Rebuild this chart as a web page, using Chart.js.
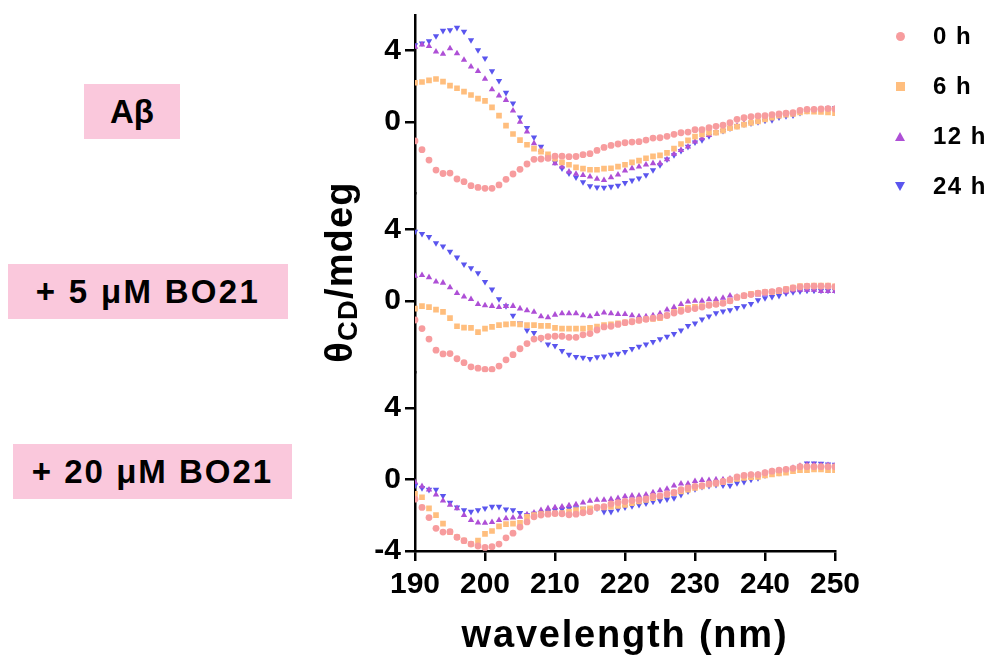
<!DOCTYPE html>
<html>
<head>
<meta charset="utf-8">
<script src="https://cdn.jsdelivr.net/npm/chart.js@4/dist/chart.umd.min.js"></script>
<style>
  html, body { margin: 0; padding: 0; background: #fff; }
  #wrap { position: relative; width: 1003px; height: 664px; overflow: hidden; font-family: "Liberation Sans", Arial, sans-serif; }
  #chart { position: absolute; left: 0; top: 0; }
  .box { position: absolute; background: #FAC8DC; font-weight: bold; font-size: 33px; letter-spacing: 2px; color: #000; text-align: center; height: 55px; line-height: 55px; white-space: nowrap; }
  .ytitle { position: absolute; left: 189px; top: 247px; width: 300px; height: 50px; line-height: 50px; text-align: center; font-weight: bold; font-size: 38px; transform: rotate(-90deg); white-space: nowrap; letter-spacing: 1.2px; }
  .ytitle sub { font-size: 0.72em; vertical-align: -0.2em; line-height: 0; }
  .xtitle { position: absolute; left: 375px; top: 612px; width: 500px; text-align: center; font-weight: bold; font-size: 38px; line-height: 44px; letter-spacing: 1.8px; white-space: nowrap; }
  .leg { position: absolute; left: 880px; height: 30px; line-height: 30px; font-weight: bold; font-size: 24px; letter-spacing: 1.5px; white-space: nowrap; }
  .leg .txt { position: absolute; left: 53px; top: 0; }
  .mk { position: absolute; }
</style>
</head>
<body>
<div id="wrap">
  <canvas id="chart" width="1003" height="664"></canvas>
  <div class="box" style="left:84px; top:84px; width:96px; letter-spacing:0;">Aβ</div>
  <div class="box" style="left:8px; top:264px; width:280px; letter-spacing:2.3px;">+ 5 μM BO21</div>
  <div class="box" style="left:13px; top:444px; width:279px;">+ 20 μM BO21</div>
  <div class="ytitle">θ<sub>CD</sub>/mdeg</div>
  <div class="xtitle">wavelength (nm)</div>
  <div id="legend"></div>
</div>
<script>
// ---- data ----
const wavelengths = [190,191,192,193,194,195,196,197,198,199,200,201,202,203,204,205,206,207,208,209,210,
  211,212,213,214,215,216,217,218,219,220,221,222,223,224,225,226,227,228,229,230,
  231,232,233,234,235,236,237,238,239,240,241,242,243,244,245,246,247,248,249,250];

const seriesLabels = ["0 h", "6 h", "12 h", "24 h"];
const panelLabels = ["Aβ", "+ 5 μM BO21", "+ 20 μM BO21"];

// Panel A: Aβ
const abeta_0h = [-1.05,-1.54,-2.12,-2.68,-2.87,-2.85,-3.18,-3.33,-3.55,-3.65,-3.70,
  -3.70,-3.51,-3.20,-2.90,-2.64, -2.34,-2.08,-2.06,-2.02,-1.90, -1.90,-1.93,-1.92,-1.82,-1.76,
  -1.58,-1.41,-1.30,-1.22,-1.15, -1.11,-1.09,-1.00,-0.89,-0.87, -0.79,-0.68,-0.59,-0.55,-0.42,
  -0.42,-0.31,-0.23,-0.17,-0.03, 0.16,0.25,0.31,0.35,0.36, 0.42,0.46,0.50,0.53,0.66, 0.72,0.72,0.74,0.76,0.74];
const abeta_6h = [2.21,2.25,2.34,2.42,2.27,2.05,1.90,1.71,1.52,1.32,1.19,
  0.83,0.37,-0.19,-0.66,-1.00, -1.26,-1.48,-1.65,-1.80,-2.04, -2.25,-2.38,-2.53,-2.60,-2.66,
  -2.66,-2.60,-2.58,-2.49,-2.38, -2.25,-2.15,-2.02,-1.91,-1.86, -1.72,-1.48,-1.22,-1.02,-0.81,
  -0.68,-0.59,-0.59,-0.48,-0.33, -0.25,-0.14,-0.04,0.05,0.16, 0.25,0.36,0.42,0.46,0.55, 0.61,0.59,0.57,0.55,0.51];
const abeta_12h = [4.22,4.34,4.25,3.95,3.82,4.13,3.85,3.48,3.11,2.86,2.42,
  1.84,1.48,1.24,0.64,0.01, -0.53,-1.18,-1.56,-2.02,-2.30, -2.49,-2.77,-2.90,-2.96,-3.05,
  -3.18,-3.24,-3.09,-2.94,-2.71, -2.58,-2.49,-2.38,-2.30,-2.30, -2.08,-1.78,-1.56,-1.37,-1.09,
  -0.90,-0.72,-0.59,-0.44,-0.31, -0.21,-0.10,0.01,0.09,0.20, 0.31,0.38,0.46,0.49,0.61, 0.68,0.72,0.72,0.75,0.75];
const abeta_24h = [4.32,4.41,4.54,4.82,5.12,5.16,5.29,5.07,4.60,4.04,3.57,
  2.86,2.32,1.65,1.06,0.27, -0.31,-0.85,-1.37,-1.93,-2.24, -2.58,-2.86,-3.09,-3.35,-3.57,
  -3.65,-3.66,-3.61,-3.55,-3.39, -3.26,-3.14,-2.96,-2.68,-2.40, -2.08,-1.84,-1.60,-1.37,-1.13,
  -1.00,-0.77,-0.55,-0.48,-0.34, -0.21,-0.12,-0.06,0.01,0.09, 0.12,0.27,0.35,0.38,0.53, 0.64,0.68,0.72,0.77,0.81];

// Panel B: + 5 uM BO21
const bo5_0h = [-1.07,-1.55,-2.14,-2.76,-2.97,-2.95,-3.24,-3.46,-3.69,-3.77,-3.83,
  -3.83,-3.65,-3.30,-3.01,-2.68, -2.39,-2.14,-2.08,-2.00,-1.98, -1.98,-2.04,-2.04,-1.90,-1.83,
  -1.63,-1.46,-1.42,-1.32,-1.22, -1.17,-1.09,-1.03,-0.97,-0.91, -0.82,-0.68,-0.58,-0.49,-0.43,
  -0.35,-0.25,-0.19,-0.14,0.00, 0.19,0.29,0.35,0.43,0.49, 0.52,0.58,0.64,0.72,0.78, 0.82,0.82,0.82,0.82,0.78];
const bo5_6h = [-0.43,-0.29,-0.35,-0.49,-0.62,-0.97,-1.42,-1.50,-1.51,-1.75,-1.55,
  -1.46,-1.36,-1.32,-1.28,-1.32, -1.36,-1.36,-1.40,-1.40,-1.51, -1.55,-1.55,-1.55,-1.55,-1.51,
  -1.44,-1.36,-1.32,-1.26,-1.20, -1.15,-1.09,-1.03,-1.01,-0.97, -0.82,-0.62,-0.49,-0.39,-0.33,
  -0.29,-0.23,-0.19,-0.12,0.00, 0.19,0.29,0.39,0.43,0.49, 0.50,0.54,0.66,0.74,0.83, 0.83,0.85,0.85,0.85,0.82];
const bo5_12h = [1.40,1.44,1.32,1.07,1.01,0.75,0.43,0.23,0.10,-0.19,-0.25,
  -0.29,-0.35,-0.29,-0.29,-0.43, -0.54,-0.62,-0.87,-0.93,-0.78, -0.70,-0.70,-0.70,-0.82,-0.87,
  -0.74,-0.66,-0.70,-0.74,-0.74, -0.82,-0.87,-0.87,-0.82,-0.70, -0.49,-0.35,-0.19,-0.04,0.00,
  0.00,0.08,0.08,0.16,0.29, 0.23,0.29,0.35,0.35,0.39, 0.49,0.49,0.50,0.58,0.62, 0.62,0.62,0.54,0.54,0.54];
const bo5_24h = [3.88,3.75,3.59,3.24,3.05,2.76,2.43,2.04,1.84,1.55,1.07,
  0.64,0.10,-0.29,-0.82,-1.26, -1.65,-1.79,-2.14,-2.43,-2.52, -2.80,-3.01,-3.13,-3.17,-3.24,
  -3.15,-3.11,-3.01,-2.95,-2.85, -2.68,-2.56,-2.43,-2.29,-2.14, -2.00,-1.84,-1.65,-1.40,-1.26,
  -1.03,-0.87,-0.68,-0.58,-0.52, -0.39,-0.29,-0.16,0.04,0.16, 0.23,0.29,0.43,0.49,0.54, 0.58,0.58,0.58,0.58,0.58];

// Panel C: + 20 uM BO21
const bo20_0h = [-1.10,-1.56,-2.13,-2.73,-2.94,-2.92,-3.23,-3.42,-3.61,-3.72,-3.80,
  -3.76,-3.61,-3.26,-3.00,-2.66, -2.37,-2.09,-1.99,-1.94,-1.90, -1.92,-1.97,-1.94,-1.86,-1.80,
  -1.56,-1.52,-1.37,-1.29,-1.23, -1.18,-1.14,-1.08,-0.95,-0.91, -0.80,-0.72,-0.57,-0.47,-0.38,
  -0.34,-0.25,-0.19,-0.11,0.00, 0.15,0.23,0.28,0.28,0.38, 0.47,0.53,0.57,0.63,0.72, 0.72,0.72,0.72,0.72,0.72];
const bo20_6h = [-0.80,-0.99,-1.61,-1.99,-2.47,-2.94,-3.23,-3.42,-3.61,-3.42,-3.04,
  -2.88,-2.62,-2.50,-2.47,-2.43, -2.09,-1.99,-1.94,-1.90,-1.90, -1.88,-1.80,-1.71,-1.67,-1.61,
  -1.57,-1.56,-1.52,-1.48,-1.42, -1.33,-1.23,-1.14,-1.04,-0.95, -0.85,-0.76,-0.66,-0.57,-0.47,
  -0.38,-0.28,-0.23,-0.15,-0.04, 0.04,0.09,0.13,0.15,0.23, 0.28,0.34,0.38,0.47,0.53, 0.53,0.57,0.57,0.53,0.53];
const bo20_12h = [-0.15,-0.38,-0.57,-0.85,-1.18,-1.42,-1.61,-1.99,-2.28,-2.41,-2.43,
  -2.39,-2.28,-2.18,-2.14,-2.09, -1.95,-1.86,-1.71,-1.61,-1.56, -1.52,-1.45,-1.39,-1.29,-1.20,
  -1.14,-1.14,-1.10,-1.04,-0.95, -0.91,-0.91,-0.85,-0.72,-0.61, -0.53,-0.34,-0.23,-0.23,-0.09,
  -0.04,-0.04,0.00,0.00,0.04, 0.09,0.19,0.25,0.28,0.38, 0.46,0.49,0.57,0.65,0.76, 0.83,0.83,0.80,0.80,0.76];
const bo20_24h = [-0.34,-0.47,-0.57,-0.57,-0.91,-1.29,-1.56,-1.71,-1.80,-1.71,-1.61,
  -1.52,-1.52,-1.67,-1.71,-1.86, -1.99,-1.90,-1.86,-1.80,-1.71, -1.67,-1.62,-1.60,-1.62,-1.65,
  -1.61,-1.80,-1.80,-1.67,-1.56, -1.48,-1.42,-1.33,-1.23,-1.18, -1.10,-1.04,-0.85,-0.66,-0.53,
  -0.40,-0.35,-0.30,-0.32,-0.34, -0.20,-0.13,0.00,0.09,0.23, 0.34,0.38,0.47,0.61,0.72, 0.91,0.91,0.89,0.85,0.83];

// ticks
const xTicks = [190, 200, 210, 220, 230, 240, 250];
const yTicksUpper = [0, 4];
const yTicksLower = [-4, 0, 4];

// ---- styles ----
const styles = [
  { color: "#F79C9E", pointStyle: "circle", radius: 3.4, rotation: 0 },
  { color: "#FFBE7E", pointStyle: "rect", radius: 4.0, rotation: 0 },
  { color: "#AE4FD6", pointStyle: "triangle", radius: 3.7, rotation: 0 },
  { color: "#5A55EE", pointStyle: "triangle", radius: 3.7, rotation: 180 }
];

const panels = [
  { axis: "yA", series: [abeta_0h, abeta_6h, abeta_12h, abeta_24h] },
  { axis: "yB", series: [bo5_0h, bo5_6h, bo5_12h, bo5_24h] },
  { axis: "yC", series: [bo20_0h, bo20_6h, bo20_12h, bo20_24h] }
];

const datasets = [];
panels.forEach((p, pi) => {
  p.series.forEach((vals, si) => {
    const st = styles[si];
    datasets.push({
      label: seriesLabels[si] + " / " + panelLabels[pi],
      data: vals.map((v, i) => ({ x: wavelengths[i], y: v })),
      yAxisID: p.axis,
      xAxisID: "x",
      showLine: false,
      pointStyle: st.pointStyle,
      pointRadius: st.radius,
      pointRotation: st.rotation,
      pointBackgroundColor: st.color,
      pointBorderColor: st.color,
      pointBorderWidth: 0,
      backgroundColor: st.color,
      borderColor: st.color,
      order: si
    });
  });
});

const FONT = "'Liberation Sans', Arial, sans-serif";

function yAxis(ticksArr, weight) {
  return {
    type: "linear",
    position: "left",
    stack: "panels",
    stackWeight: 1,
    weight: weight,
    min: -4,
    max: 6,
    afterBuildTicks: (scale) => { scale.ticks = ticksArr.map(v => ({ value: v })); },
    afterFit: (scale) => { scale.width = 415; scale.paddingTop = 0; scale.paddingBottom = 0; },
    border: { display: true, color: "#000", width: 2.5 },
    grid: { display: true, drawOnChartArea: false, drawTicks: true, tickLength: 10, color: "#000", lineWidth: 2.5 },
    ticks: { color: "#000", padding: 4, font: { family: FONT, size: 30, weight: "bold" } }
  };
}

new Chart(document.getElementById("chart"), {
  type: "scatter",
  data: { datasets },
  options: {
    responsive: false,
    devicePixelRatio: 1,
    animation: false,
    events: [],
    layout: { padding: { left: 0, top: 15, right: 168, bottom: 0 } },
    plugins: { legend: { display: false }, tooltip: { enabled: false } },
    scales: {
      x: {
        type: "linear",
        position: "bottom",
        min: 190,
        max: 250,
        afterBuildTicks: (scale) => { scale.ticks = xTicks.map(v => ({ value: v })); },
        afterFit: (scale) => { scale.height = 113; scale.paddingLeft = 0; scale.paddingRight = 0; },
        border: { display: true, color: "#000", width: 2.5 },
        grid: { display: true, drawOnChartArea: false, drawTicks: true, tickLength: 10, color: "#000", lineWidth: 2.5 },
        ticks: { color: "#000", padding: 6, maxRotation: 0, font: { family: FONT, size: 30, weight: "bold" } }
      },
      yC: yAxis(yTicksLower, 1),
      yB: yAxis(yTicksUpper, 2),
      yA: yAxis(yTicksUpper, 3)
    }
  }
});

// ---- legend (HTML) ----
const legendTops = [21, 71, 121, 171];
const legend = document.getElementById("legend");
seriesLabels.forEach((lab, i) => {
  const st = styles[i];
  const row = document.createElement("div");
  row.className = "leg";
  row.style.top = legendTops[i] + "px";
  const mk = document.createElement("div");
  mk.className = "mk";
  if (st.pointStyle === "circle") {
    Object.assign(mk.style, { left: "16px", top: "11px", width: "9px", height: "9px", borderRadius: "50%", background: st.color });
  } else if (st.pointStyle === "rect") {
    Object.assign(mk.style, { left: "16px", top: "11px", width: "9px", height: "9px", background: st.color });
  } else if (st.rotation === 0) {
    Object.assign(mk.style, { left: "15px", top: "11px", width: "0", height: "0", borderLeft: "5.5px solid transparent", borderRight: "5.5px solid transparent", borderBottom: "9px solid " + st.color });
  } else {
    Object.assign(mk.style, { left: "15px", top: "11px", width: "0", height: "0", borderLeft: "5.5px solid transparent", borderRight: "5.5px solid transparent", borderTop: "9px solid " + st.color });
  }
  const tx = document.createElement("span");
  tx.className = "txt";
  tx.textContent = lab;
  row.appendChild(mk);
  row.appendChild(tx);
  legend.appendChild(row);
});
</script>
</body>
</html>
